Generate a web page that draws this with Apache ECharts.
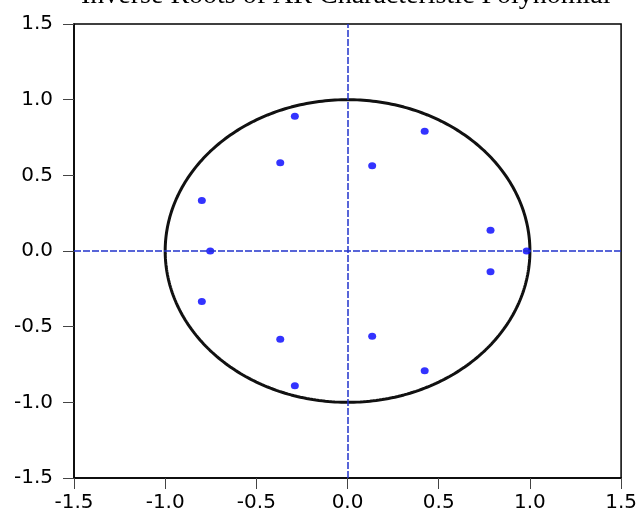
<!DOCTYPE html>
<html>
<head>
<meta charset="utf-8">
<script src="https://cdn.jsdelivr.net/npm/echarts@6/dist/echarts.min.js"></script>
<style>
  html, body { margin: 0; padding: 0; background: #fff; }
  #chart { width: 640px; height: 513px; }
</style>
</head>
<body>
<div id="chart"></div>
<script>
const rootRe = [-0.289, -0.369, 0.135, 0.423, -0.799, -0.753, 0.784, 0.982,
                 0.784, -0.799, -0.369, 0.135, 0.423, -0.289]
const rootIm = [0.891, 0.583, 0.564, 0.792, 0.333, 0.0, 0.137, 0.0,
                -0.137, -0.333, -0.583, -0.564, -0.792, -0.891]

const axisMin = -1.5
const axisMax = 1.5
const axisStep = 0.5

const titleText = 'Inverse Roots of AR Characteristic Polynomial'

// unit circle reference
const circle = []
for (let i = 0; i <= 360; i++) {
  const a = i * Math.PI / 180
  circle.push([Math.cos(a), Math.sin(a)])
}

const roots = rootRe.map((re, i) => [re, rootIm[i]])

const chart = echarts.init(document.getElementById('chart'))

const axisCommon = {
  type: 'value',
  min: axisMin,
  max: axisMax,
  interval: axisStep,
  axisLine: { show: true, onZero: false, lineStyle: { color: '#000', width: 1.5 } },
  axisTick: { show: true, length: 11, lineStyle: { color: '#444' } },
  splitLine: { show: false },
  axisLabel: {
    color: '#000',
    fontFamily: 'DejaVu Sans',
    fontSize: 20,
    formatter: v => v.toFixed(1)
  }
}

const option = {
  animation: false,
  backgroundColor: '#fff',
  title: {
    text: titleText,
    left: 76,
    top: -23,
    textStyle: {
      fontFamily: 'Liberation Serif',
      fontWeight: 'normal',
      fontSize: 28,
      color: '#000'
    }
  },
  grid: {
    left: 74,
    right: 17,
    top: 24,
    bottom: 34,
    show: true,
    borderColor: '#000',
    borderWidth: 1.5
  },
  xAxis: Object.assign({}, axisCommon, {
    axisLabel: Object.assign({}, axisCommon.axisLabel, { margin: 15 })
  }),
  yAxis: Object.assign({}, axisCommon, {
    axisLabel: Object.assign({}, axisCommon.axisLabel, { margin: 21 })
  }),
  series: [
    {
      type: 'line',
      data: circle,
      showSymbol: false,
      silent: true,
      lineStyle: { color: '#111', width: 3 },
      markLine: {
        silent: true,
        symbol: 'none',
        label: { show: false },
        lineStyle: { color: '#2233cc', width: 1.5, type: [7, 2] },
        data: [{ xAxis: 0 }, { yAxis: 0 }]
      },
      z: 2
    },
    {
      type: 'scatter',
      data: roots,
      symbol: 'circle',
      symbolSize: [8, 7],
      itemStyle: { color: '#0000ff' },
      z: 3
    }
  ]
}

chart.setOption(option)
</script>
</body>
</html>
